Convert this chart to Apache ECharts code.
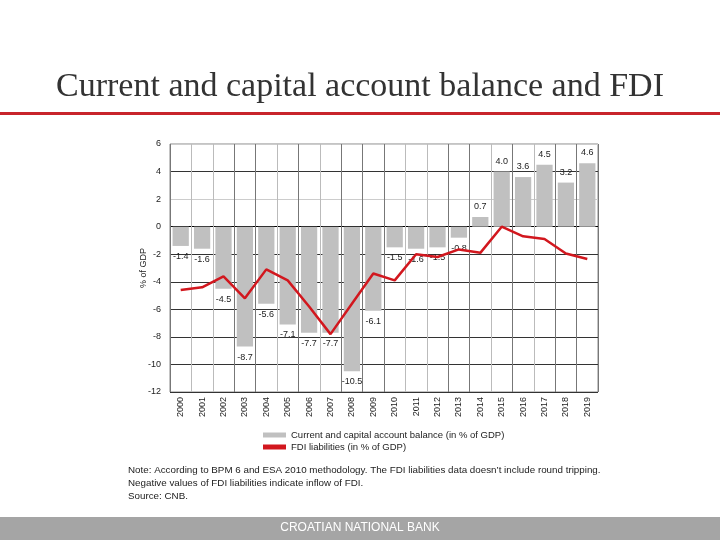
<!DOCTYPE html>
<html>
<head>
<meta charset="utf-8">
<script src="https://cdn.jsdelivr.net/npm/echarts@6/dist/echarts.min.js"></script>
<style>html,body{margin:0;padding:0;background:#fff;}#c{width:720px;height:540px;}</style>
</head>
<body>
<div id="c"></div>
<script>
const years = ['2000','2001','2002','2003','2004','2005','2006','2007','2008','2009','2010','2011','2012','2013','2014','2015','2016','2017','2018','2019'];
const balance = [-1.4,-1.6,-4.5,-8.7,-5.6,-7.1,-7.7,-7.7,-10.5,-6.1,-1.5,-1.6,-1.5,-0.8,0.7,4.0,3.6,4.5,3.2,4.6];
const fdi = [-4.6,-4.4,-3.6,-5.2,-3.1,-3.9,-5.8,-7.8,-5.6,-3.4,-3.9,-2.0,-2.2,-1.65,-1.9,0.0,-0.7,-0.9,-1.95,-2.35];
const yTicks = {min:-12, max:6, interval:2};

const chart = echarts.init(document.getElementById('c'));
chart.setOption({
  animation:false,
  backgroundColor:'#fff',
  textStyle:{fontFamily:'Liberation Sans'},
  graphic:[
    {type:'text', left:'center', top:70, style:{text:'Current and capital account balance and FDI', font:'34px "Liberation Serif"', fill:'#333'}},
    {type:'rect', shape:{x:0,y:112,width:720,height:3}, style:{fill:'#c8242b'}},
    {type:'text', left:128, top:464, style:{text:"Note: According to BPM 6 and ESA 2010 methodology. The FDI liabilities data doesn\u2019t include round tripping.\nNegative values of FDI liabilities indicate inflow of FDI.\nSource: CNB.", font:'9.8px "Liberation Sans"', fill:'#222', lineHeight:13}},
    {type:'rect', shape:{x:0,y:517,width:720,height:23}, style:{fill:'#a5a5a5'}},
    {type:'text', left:'center', top:522, style:{text:'CROATIAN NATIONAL BANK', font:'12px "Liberation Sans"', fill:'#fff'}}
  ],
  grid:{left:170, right:122, top:144, bottom:148, show:true, borderColor:'#888', borderWidth:1},
  legend:{
    orient:'vertical', left:258, top:425, itemGap:2, itemWidth:23, itemHeight:5,
    textStyle:{fontSize:9.5, color:'#222'},
    data:[{name:'Current and capital account balance (in % of GDP)', icon:'rect'},{name:'FDI liabilities (in % of GDP)', icon:'rect'}]
  },
  xAxis:{
    type:'category', data:years, position:'bottom',
    axisLine:{show:false}, axisTick:{show:false},
    axisLabel:{rotate:90, fontSize:9, color:'#222', margin:5},
    splitLine:{show:true, interval:0, lineStyle:{color:['#777','#bbb','#bbb','#777','#777','#bbb','#777','#bbb','#777','#777'], width:1}}
  },
  yAxis:{
    type:'value', min:yTicks.min, max:yTicks.max, interval:yTicks.interval,
    name:'% of GDP', nameLocation:'middle', nameGap:22, nameMoveOverlap:false, nameTextStyle:{fontSize:9, color:'#222'},
    axisLine:{show:false}, axisTick:{show:false},
    axisLabel:{fontSize:9, color:'#222', margin:9},
    splitLine:{lineStyle:{color:['#333','#333','#333','#333','#333','#333','#000','#ccc','#333','#ccc'], width:1}}
  },
  series:[
    {
      name:'Current and capital account balance (in % of GDP)', type:'bar',
      data: balance.map(v => ({value:v, label:{position: v>=0 ? 'top' : 'bottom'}})),
      barCategoryGap:'24%',
      itemStyle:{color:'#c0c0c0'},
      label:{show:true, fontSize:9, color:'#222', distance:6, formatter: p => p.value.toFixed(1)}
    },
    {
      name:'FDI liabilities (in % of GDP)', type:'line', data:fdi,
      symbol:'none', lineStyle:{color:'#d2171e', width:2.5}, itemStyle:{color:'#d2171e'}
    }
  ]
});
</script>
</body>
</html>
